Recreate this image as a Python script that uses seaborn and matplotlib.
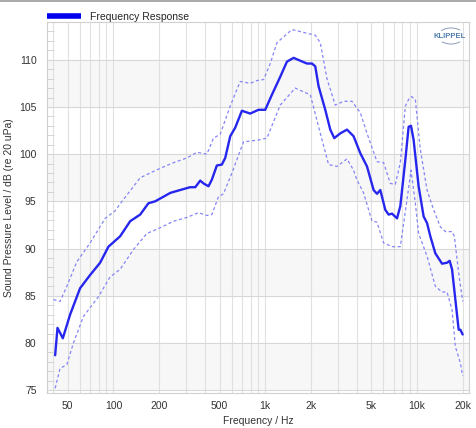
import numpy as np
import pandas as pd
import seaborn as sns
import matplotlib.pyplot as plt
from matplotlib.ticker import FixedLocator, FixedFormatter, MultipleLocator
from matplotlib.lines import Line2D
from matplotlib.patches import Arc

# values (Hz / dB)
freq_main = [41.3, 42.8, 46.4, 51.8, 60.3, 70.2, 81.7, 92.7, 110.7, 128.9, 150, 170, 188, 214, 237,
             275, 320, 346, 373, 392, 423, 445, 480, 518, 545, 588, 634, 702, 796, 903,
             1000, 1107, 1256, 1390, 1537, 1701, 1883, 2032, 2136, 2246, 2486, 2682, 2850, 3121, 3456,
             3820, 4230, 4682, 5176, 5450, 5730, 6180, 6500, 6842, 7383, 7762, 8375, 8805, 9130, 9497,
             10245, 11054, 11640, 12238, 13200, 14614, 15766, 16400, 17010, 17885, 18810, 19300, 19980]
spl_main = [78.7, 81.6, 80.5, 83.0, 85.8, 87.2, 88.5, 90.2, 91.3, 92.9, 93.6, 94.8, 95.0, 95.5, 95.9,
            96.2, 96.5, 96.5, 97.2, 96.9, 96.6, 97.3, 98.8, 98.9, 99.6, 101.9, 102.8, 104.6, 104.3, 104.7,
            104.7, 106.3, 108.2, 109.8, 110.2, 109.9, 109.6, 109.6, 109.3, 107.2, 104.7, 102.6, 101.7, 102.2, 102.6,
            101.9, 100.1, 98.7, 96.2, 95.8, 96.2, 94.1, 93.6, 93.7, 93.2, 94.5, 99.4, 102.9, 103.0, 101.5,
            96.6, 93.4, 92.7, 91.3, 89.5, 88.4, 88.5, 88.7, 87.8, 84.6, 81.4, 81.4, 80.9]

freq_upper = [40.2, 44.5, 49.3, 57.4, 70.2, 88.2, 102.6, 116.4, 150, 174.5, 203, 249, 305, 355,
              413, 456, 505, 588, 684, 796, 882, 975, 1079, 1194, 1500, 2136, 2305, 2551, 2893,
              3282, 3728, 4230, 4682, 5450, 6024, 6668, 7194, 7762, 8375, 8805, 9200, 9745,
              10514, 11640, 12868, 14245, 15370, 17010, 17620, 18810, 19980]
spl_upper = [84.6, 84.4, 86.0, 88.6, 90.6, 93.2, 94.0, 95.2, 97.5, 98.0, 98.5, 99.1, 99.6, 100.2,
             100.0, 101.7, 102.1, 105.1, 107.7, 107.5, 107.8, 107.9, 109.6, 111.8, 113.2, 112.6, 111.8, 108.0, 105.2,
             105.6, 105.6, 104.4, 102.2, 99.2, 99.1, 96.9, 96.8, 99.1, 105.1, 105.8, 106.1, 105.8,
             100.5, 96.2, 94.1, 92.3, 91.8, 91.8, 91.3, 87.4, 84.4]

freq_lower = [41.3, 44.5, 49.3, 54.5, 63.4, 79.6, 95.1, 110.7, 135.5, 166, 203, 249, 305, 363,
              413, 445, 492, 531, 603, 719, 903, 1026, 1256, 1576, 1788, 1981, 2246, 2614, 2970,
              3456, 3820, 4010, 4446, 5051, 5450, 6024, 6842, 7762, 8594, 9130, 9745, 10245,
              11640, 13200, 14614, 15766, 17010, 17885, 19300, 19980]
spl_lower = [75.2, 77.3, 77.7, 80.0, 82.8, 84.9, 87.0, 87.8, 89.9, 91.6, 92.2, 92.9, 93.3, 93.8,
             93.5, 93.6, 95.5, 95.8, 98.0, 101.3, 101.5, 101.7, 105.2, 107.0, 106.6, 106.3, 102.9, 98.9, 98.7,
             99.5, 98.3, 97.3, 95.9, 92.9, 92.8, 90.6, 90.2, 90.2, 95.2, 98.3, 94.8, 91.6,
             89.2, 86.0, 85.4, 85.4, 83.5, 79.6, 77.9, 76.5]

x_ticks = [50, 100, 200, 500, 1000, 2000, 5000, 10000, 20000]
x_labels = ['50', '100', '200', '500', '1k', '2k', '5k', '10k', '20k']
x_grid = [40, 50, 60, 70, 80, 90, 100, 200, 300, 400, 500, 600, 700, 800, 900,
          1000, 2000, 3000, 4000, 5000, 6000, 7000, 8000, 9000, 10000, 20000]
bands = [(75, 80), (85, 90), (95, 100), (105, 110)]

sns.set_style('white')
plt.rcParams['font.family'] = ['Liberation Sans', 'DejaVu Sans']

fig = plt.figure(figsize=(4.76, 4.28), dpi=100)
ax = fig.add_axes([47 / 476, 1 - 393 / 428, 422 / 476, 371 / 428])

for lo, hi in bands:
    ax.axhspan(lo, hi, color='#f7f7f7', zorder=0, lw=0)
for f in x_grid:
    ax.axvline(f, color='#e0e0e0', lw=0.8, zorder=1)
for v in range(75, 115, 5):
    ax.axhline(v, color='#d8d8d8', lw=0.8, zorder=1)

dash = (0, (2.5, 2))
sns.lineplot(x=freq_upper, y=spl_upper, ax=ax, color='#8585f7', lw=0.9, linestyle=dash, zorder=3)
sns.lineplot(x=freq_lower, y=spl_lower, ax=ax, color='#8585f7', lw=0.9, linestyle=dash, zorder=3)
sns.lineplot(x=freq_main, y=spl_main, ax=ax, color='#2626ee', lw=1.7, zorder=4,
             label='Frequency Response')

ax.set_xscale('log')
ax.set_xlim(36.5, 22000)
ax.set_ylim(74.7, 114)
ax.xaxis.set_major_locator(FixedLocator(x_ticks))
ax.xaxis.set_major_formatter(FixedFormatter(x_labels))
ax.xaxis.set_minor_locator(FixedLocator([]))
ax.yaxis.set_major_locator(MultipleLocator(5))
ax.yaxis.set_minor_locator(MultipleLocator(1))
ax.tick_params(axis='both', which='major', labelsize=7.5, colors='#cccccc', labelcolor='#333333',
               length=4, width=0.8, direction='out')
ax.tick_params(axis='y', which='minor', left=True, length=5, width=0.6, color='#cccccc', direction='in')
ax.tick_params(axis='x', which='major', pad=2)

for s in ax.spines.values():
    s.set_color('#d0d0d0')
    s.set_linewidth(0.8)

ax.set_xlabel('Frequency / Hz', fontsize=7.5, color='#333333', labelpad=3)
ax.set_ylabel('Sound Pressure Level / dB (re 20 uPa)', fontsize=7.5, color='#333333', labelpad=4)

leg = ax.legend(loc='lower left', bbox_to_anchor=(-0.005, 0.995), frameon=False, fontsize=7.5,
                handlelength=3.3, borderaxespad=0, borderpad=0.2)
for h in leg.get_lines():
    h.set_linewidth(4)
    h.set_color('#0000ee')
    h.set_solid_capstyle('butt')

# klippel logo
ax.text(450 / 476, 1 - 36 / 428, 'KLIPPEL', transform=fig.transFigure, ha='center', va='center',
        fontsize=5.5, fontweight='bold', color='#4f7fb0')
for t1, t2 in [(35, 150), (215, 325)]:
    fig.add_artist(Arc((451 / 476, 1 - 36 / 428), 26 / 476, 16 / 428, theta1=t1, theta2=t2,
                       color='#8a9db5', lw=0.7, transform=fig.transFigure))

fig.add_artist(Line2D([0, 1], [0.998, 0.998], color='#999999', lw=1.2, transform=fig.transFigure))

fig.savefig('out.png', dpi=100)
